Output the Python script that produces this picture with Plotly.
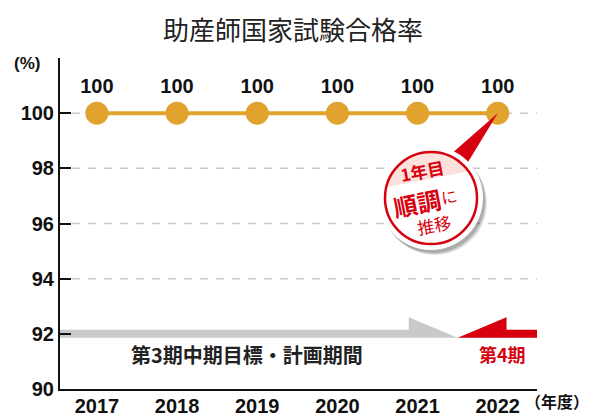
import math
import plotly.graph_objects as go

# ---- data ----
years = [2017, 2018, 2019, 2020, 2021, 2022]
pass_rate = [100, 100, 100, 100, 100, 100]
y_ticks = [90, 92, 94, 96, 98, 100, 102]
y_ticktext = ["90", "92", "94", "96", "98", "100", ""]
grid_values = [94, 96, 98, 100]
period3_label = "第3期中期目標・計画期間"
period4_label = "第4期"
period_split = 2021.5
period_band = 92

# page body has an 8px margin, so the figure is drawn 8px smaller and positions offset
OFF = 8
W, H = 589 - OFF, 418 - OFF
PL, PR, PT, PB = 60, 537, 58, 389          # plot area in window pixels
ML, MR, MT, MB = PL - OFF, W - (PR - OFF), PT - OFF, H - (PB - OFF)
PW, PH = PR - PL, PB - PT
XR = [2016.54, 2022.49]
YR = [90, 102]

GOLD = "#E1A22E"
RED = "#D7000F"
NUM_FONT = "Liberation Sans, Arial, sans-serif"
JP_FONT = "Noto Sans CJK JP, sans-serif"


def P(px, py):
    """window pixel -> paper"""
    return (px - PL) / PW, (PB - py) / PH


def ypx(v):
    return PB - (v - YR[0]) / (YR[1] - YR[0]) * PH


def xpx(v):
    return PL + (v - XR[0]) / (XR[1] - XR[0]) * PW


fig = go.Figure()
fig.add_trace(go.Scatter(
    x=years, y=pass_rate, mode="lines+markers+text",
    text=[str(v) for v in pass_rate], textposition="top center",
    textfont=dict(family=NUM_FONT, size=20, color="#111", weight="bold"),
    line=dict(color=GOLD, width=4),
    marker=dict(color=GOLD, size=23),
    cliponaxis=False, hoverinfo="skip", showlegend=False,
))

shapes = []
# gridlines
for g in grid_values:
    shapes.append(dict(type="line", xref="paper", yref="y", x0=0.025, x1=1, y0=g, y1=g,
                       line=dict(color="#c8c8c8", width=1.5, dash="8px,8px"), layer="below"))

# period arrows (in data coordinates)
band_h = 0.145
head_h = 0.61
head_len = 0.61
y_lo, y_hi = period_band - band_h, period_band + band_h
x_start = XR[0]
gray_path = (f"M{x_start},{y_hi} L{period_split - head_len},{y_hi} L{period_split - head_len},{y_lo + head_h + 0.14} "
             f"L{period_split},{y_lo} L{x_start},{y_lo} Z")
shapes.append(dict(type="path", xref="x", yref="y", path=gray_path,
                   fillcolor="#c9c9c9", line=dict(width=0), layer="below"))
red_path = (f"M{period_split},{y_lo} L{period_split + head_len},{y_lo + head_h + 0.14} L{period_split + head_len},{y_hi} "
            f"L{XR[1]},{y_hi} L{XR[1]},{y_lo} Z")
shapes.append(dict(type="path", xref="x", yref="y", path=red_path,
                   fillcolor=RED, line=dict(width=0), layer="below"))

# callout
cx, cy, R = 431, 198, 46
tip = (xpx(years[-1]), ypx(pass_rate[-1]))


def ppath(pts):
    s = ""
    for i, (px, py) in enumerate(pts):
        x, y = P(px, py)
        s += ("M" if i == 0 else "L") + f"{x:.5f},{y:.5f} "
    return s + "Z"


def circ(cx_, cy_, r):
    x0, y0 = P(cx_ - r, cy_ + r)
    x1, y1 = P(cx_ + r, cy_ - r)
    return x0, y0, x1, y1


# pointer
shapes.append(dict(type="path", xref="paper", yref="paper",
                   path=ppath([(450, 155), (465, 167), tip]),
                   fillcolor=RED, line=dict(width=0), layer="above"))
# shadow
for off, op in [(5, 0.10), (4, 0.12), (3, 0.15)]:
    x0, y0, x1, y1 = circ(cx + off - 1, cy + off, R + 6)
    shapes.append(dict(type="circle", xref="paper", yref="paper", x0=x0, y0=y0, x1=x1, y1=y1,
                       fillcolor=f"rgba(0,0,0,{op})", line=dict(width=0), layer="above"))
x0, y0, x1, y1 = circ(cx, cy, R + 6)
shapes.append(dict(type="circle", xref="paper", yref="paper", x0=x0, y0=y0, x1=x1, y1=y1,
                   fillcolor="white", line=dict(width=0), layer="above"))
# pink segment
theta = math.radians(11)
n = (-math.sin(theta), -math.cos(theta))
t = (math.cos(theta), -math.sin(theta))
d = 19
alpha = math.acos(d / R)
pts = []
for k in range(41):
    phi = -alpha + 2 * alpha * k / 40
    pts.append((cx + R * (n[0] * math.cos(phi) + t[0] * math.sin(phi)),
                cy + R * (n[1] * math.cos(phi) + t[1] * math.sin(phi))))
shapes.append(dict(type="path", xref="paper", yref="paper", path=ppath(pts),
                   fillcolor="#FCE1DC", line=dict(width=0), layer="above"))
x0, y0, x1, y1 = circ(cx, cy, R)
shapes.append(dict(type="circle", xref="paper", yref="paper", x0=x0, y0=y0, x1=x1, y1=y1,
                   line=dict(color=RED, width=2.5), layer="above"))

annotations = []


def ann(text, px, py, size, color="#111", family=JP_FONT, weight="normal", angle=0, xanchor="center"):
    x, y = P(px, py)
    annotations.append(dict(text=text, x=x, y=y, xref="paper", yref="paper", showarrow=False,
                            xanchor=xanchor, yanchor="middle", textangle=angle,
                            font=dict(family=family, size=size, color=color, weight=weight)))


ann("助産師国家試験合格率", 293, 28, 26, color="#222")
ann("(%)", 27, 64, 17, family=NUM_FONT, weight="bold")
ann("（年度）", 557, 401, 16, family=JP_FONT, weight="bold")
ann(period3_label, 247, 354, 20, color="#222", weight="bold")
ann(period4_label, 502, 354, 18, color=RED, weight="bold")
ann("1年目", 422, 170, 17, color=RED, weight="bold", angle=-11)
ann("順調", 417, 202, 24, color=RED, weight="bold", angle=-11)
ann("に", 449, 196, 16, color=RED, angle=-11)
ann("推移", 434, 224, 17, color=RED, angle=-11)

fig.update_layout(
    width=W, height=H, margin=dict(l=ML, r=MR, t=MT, b=MB, autoexpand=False),
    paper_bgcolor="white", plot_bgcolor="white",
    shapes=shapes, annotations=annotations,
    xaxis=dict(range=XR, tickvals=years, ticktext=[str(y) for y in years],
               showgrid=False, zeroline=False, showline=True, linecolor="#111", linewidth=2,
               ticks="", tickfont=dict(family=NUM_FONT, size=20, color="#111", weight="bold"),
               ticklabelstandoff=-2, fixedrange=True, automargin=False),
    yaxis=dict(range=YR, tickvals=y_ticks, ticktext=y_ticktext,
               showgrid=False, zeroline=False, showline=True, linecolor="#111", linewidth=2,
               ticks="inside", ticklen=11, tickwidth=2, tickcolor="#111",
               tickfont=dict(family=NUM_FONT, size=20, color="#111", weight="bold"),
               fixedrange=True, automargin=False),
)

fig.write_html("out.html", config={"displayModeBar": False})
